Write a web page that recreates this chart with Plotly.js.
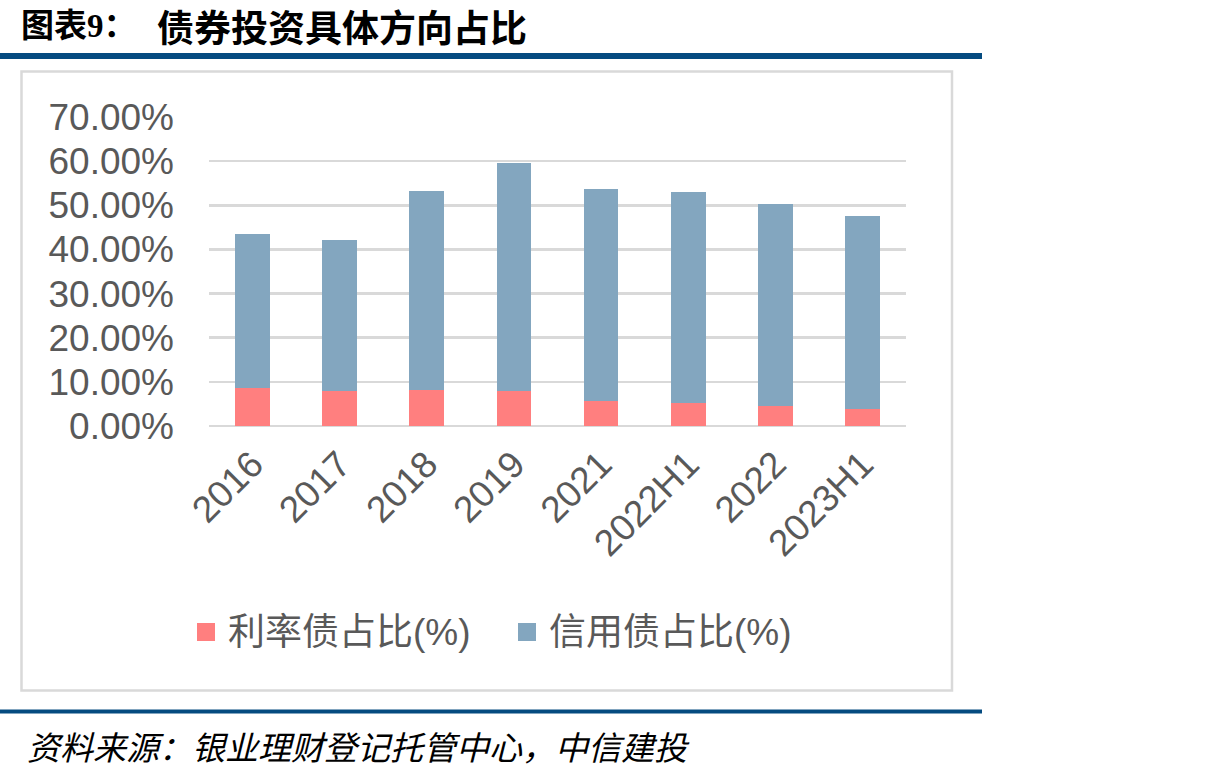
<!DOCTYPE html>
<html>
<head>
<meta charset="utf-8">
<script src="https://cdn.plot.ly/plotly-3.0.1.min.js"></script>
<style>
html,body{margin:0;padding:0;background:#fff;}
#chart{width:1205px;height:778px;}
</style>
</head>
<body>
<div id="chart"></div>
<script>
// ---- data ----
const categories = ["2016","2017","2018","2019","2021","2022H1","2022","2023H1"];
const rateBondShare = [8.5, 8.0, 8.2, 8.0, 5.7, 5.1, 4.6, 3.8];      // 利率债占比(%)
const creditBondShare = [35.1, 34.1, 45.0, 51.6, 48.1, 48.0, 45.7, 43.7]; // 信用债占比(%)
const seriesNames = ["利率债占比(%)", "信用债占比(%)"];
const seriesColors = ["#FF7F7F", "#83A6BF"];
const yTickValues = [0, 10, 20, 30, 40, 50, 60, 70];

// ---- layout geometry (pixels) ----
const W = 1205, H = 778;
const L = 209, R = 906, T = 117, B = 426;
const px2x = p => (p - L) / (R - L);
const px2y = p => (B - p) / (B - T);

const latin = 'Liberation Sans, Arial, Noto Sans CJK SC, sans-serif';
const cjk = 'Noto Sans CJK SC, sans-serif';

const traces = [
  {
    type: 'bar', name: seriesNames[0], x: categories, y: rateBondShare,
    marker: {color: seriesColors[0]}, hoverinfo: 'skip'
  },
  {
    type: 'bar', name: seriesNames[1], x: categories, y: creditBondShare,
    marker: {color: seriesColors[1]}, hoverinfo: 'skip'
  }
];

// legend drawn as squares + text (reference uses large square swatches)
const legendItems = [
  {sq: [197, 215], textX: 226},
  {sq: [518, 536], textX: 547}
];
const legendY = [623, 641];

const shapes = [
  {type: 'line', xref: 'paper', yref: 'paper', x0: px2x(0), x1: px2x(982), y0: px2y(56), y1: px2y(56),
   line: {color: '#054B80', width: 6}},
  {type: 'rect', xref: 'paper', yref: 'paper', x0: px2x(21.5), x1: px2x(952), y0: px2y(71.5), y1: px2y(690.5),
   line: {color: '#D9D9D9', width: 2.5}, layer: 'below'},
  {type: 'line', xref: 'paper', yref: 'paper', x0: px2x(0), x1: px2x(982), y0: px2y(711.5), y1: px2y(711.5),
   line: {color: '#054B80', width: 4}}
];
const annotations = [
  {xref: 'paper', yref: 'paper', x: px2x(20), y: px2y(26), xanchor: 'left', yanchor: 'middle',
   showarrow: false, text: '<b>图表9：</b>', borderpad: 0,
   font: {family: 'Liberation Serif, Noto Sans CJK SC, serif', size: 33, color: '#000000'}},
  {xref: 'paper', yref: 'paper', x: px2x(156), y: px2y(26), xanchor: 'left', yanchor: 'middle',
   showarrow: false, text: '<b>债券投资具体方向占比</b>', borderpad: 0,
   font: {family: cjk, size: 37, color: '#000000'}},
  {xref: 'paper', yref: 'paper', x: px2x(25), y: px2y(746), xanchor: 'left', yanchor: 'middle',
   showarrow: false, text: '资料来源：银业理财登记托管中心，中信建投',
   font: {family: cjk, size: 33, color: '#000000', style: 'italic'}}
];
legendItems.forEach((it, i) => {
  shapes.push({type: 'rect', xref: 'paper', yref: 'paper',
    x0: px2x(it.sq[0]), x1: px2x(it.sq[1]), y0: px2y(legendY[1]), y1: px2y(legendY[0]),
    fillcolor: seriesColors[i], line: {width: 0}});
  annotations.push({xref: 'paper', yref: 'paper', x: px2x(it.textX), y: px2y(632),
    xanchor: 'left', yanchor: 'middle', showarrow: false, text: seriesNames[i],
    font: {family: latin, size: 37, color: '#595959'}});
});

const layout = {
  width: W, height: H,
  margin: {l: L, r: W - R, t: T, b: H - B, pad: 0},
  paper_bgcolor: '#ffffff', plot_bgcolor: '#ffffff',
  barmode: 'stack', bargap: 0.6,
  showlegend: false,
  xaxis: {
    type: 'category', tickangle: -45,
    tickfont: {family: latin, size: 37, color: '#595959'},
    showgrid: false, showline: false, ticks: '', zeroline: false,
    ticklabelstandoff: 8, fixedrange: true
  },
  yaxis: {
    range: [0, 70], tickvals: yTickValues, ticktext: yTickValues.map(v => v.toFixed(2) + '%'),
    tickfont: {family: latin, size: 37, color: '#595959'},
    showgrid: true, gridcolor: '#D9D9D9', gridwidth: 2.5,
    zeroline: true, zerolinecolor: '#D9D9D9', zerolinewidth: 2.5,
    showline: false, ticks: '', ticklabelstandoff: 34, fixedrange: true
  },
  shapes: shapes,
  annotations: annotations
};

Plotly.newPlot('chart', traces, layout, {displayModeBar: false, staticPlot: true});
</script>
</body>
</html>
